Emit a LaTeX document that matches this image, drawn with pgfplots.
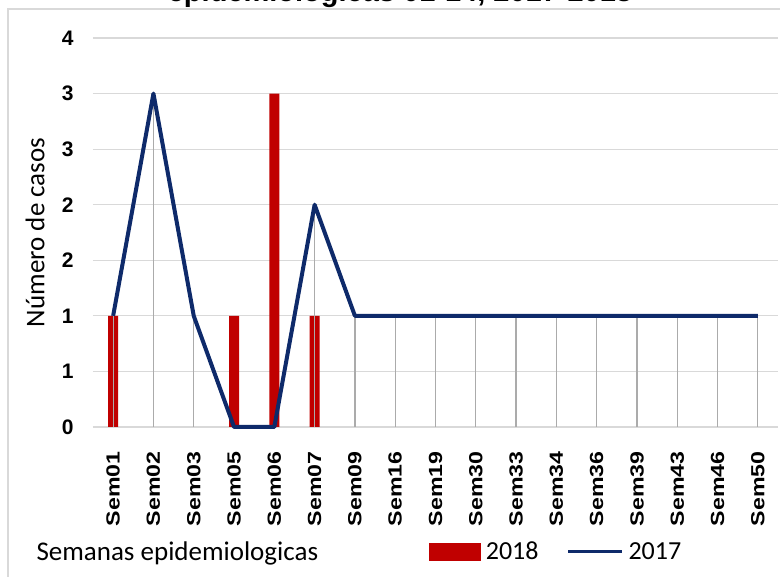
\documentclass[border=0pt]{standalone}
\usepackage{pgfplots}
\pgfplotsset{compat=1.18}
\usepackage{pgfplotstable}
\usepackage{graphicx}
\usepackage{fontspec}
\setmainfont{Carlito}
\newfontfamily\arial{Liberation Sans}
\definecolor{barred}{HTML}{C00000}
\definecolor{navy}{HTML}{0E2A6A}
\definecolor{gridc}{HTML}{D9D9D9}
\definecolor{dropc}{HTML}{ABABAB}
\newcommand\sem[1]{\scalebox{1.22}[1]{Sem#1}}
\pgfplotstableread{
x y
0 1
3 1
4 3
5 1
}\bars
\pgfplotstableread{
x y
0 1
1 3
2 1
3 0
4 0
5 2
6 1
7 1
8 1
9 1
10 1
11 1
12 1
13 1
14 1
15 1
16 1
}\line
\begin{document}
\begin{tikzpicture}[x=1pt,y=1pt]
\useasboundingbox (0,0) rectangle (780,577);
\node[font=\arial\bfseries\fontsize{29}{29}\selectfont, anchor=base] at (400,575.5) {epidemiologicas 01-14, 2017-2018};
\draw[gridc, line width=1.5pt] (8,0) -- (8,568) -- (780,568);
\begin{axis}[
  at={(93pt,150pt)}, anchor=south west,
  width=685pt, height=389pt, scale only axis,
  xmin=-0.5, xmax=16.5, ymin=0, ymax=3.5,
  ytick={0,0.5,1,1.5,2,2.5,3,3.5},
  yticklabels={0,1,1,2,2,3,3,4},
  xtick={0,...,16},
  xticklabels={\sem{01},\sem{02},\sem{03},\sem{05},\sem{06},\sem{07},\sem{09},\sem{16},\sem{19},\sem{30},\sem{33},\sem{34},\sem{36},\sem{39},\sem{43},\sem{46},\sem{50}},
  axis line style={draw=none},
  tick style={draw=none},
  ymajorgrids,
  grid style={gridc, line width=1.2pt},
  yticklabel style={font=\arial\bfseries\fontsize{21}{21}\selectfont},
  yticklabel shift={16pt},
  xticklabel style={font=\arial\bfseries\fontsize{19}{19}\selectfont, rotate=90, anchor=east},
  xticklabel shift={21pt},
  ylabel={Número de casos},
  ylabel style={font=\fontsize{27}{27}\selectfont, at={(rel axis cs:0,0.5)}, anchor=center, yshift=58pt},
  legend style={draw=none, fill=none, at={(rel axis cs:0.676,-0.321)}, anchor=center, legend columns=2,
    font=\fontsize{26}{26}\selectfont, /tikz/every even column/.append style={column sep=26pt},
    /tikz/every odd column/.append style={column sep=3pt}},
  legend cell align=left,
  clip=false,
]
\addplot[ybar, bar width=10pt, fill=barred, draw=none,
  legend image code/.code={\fill[barred] (0pt,-9pt) rectangle (52pt,9pt);}] table {\bars};
\addlegendentry{2018}
\addplot[ycomb, dropc, line width=1.2pt, forget plot] table {\line};
\addplot[navy, line width=4pt, line join=round,
  legend image code/.code={\draw[navy, line width=3pt] (0pt,0pt) -- (54pt,0pt);}] table {\line};
\addlegendentry{2017}
\end{axis}
\node[font=\fontsize{27}{27}\selectfont, anchor=west] at (33,24) {Semanas epidemiologicas};
\end{tikzpicture}
\end{document}
